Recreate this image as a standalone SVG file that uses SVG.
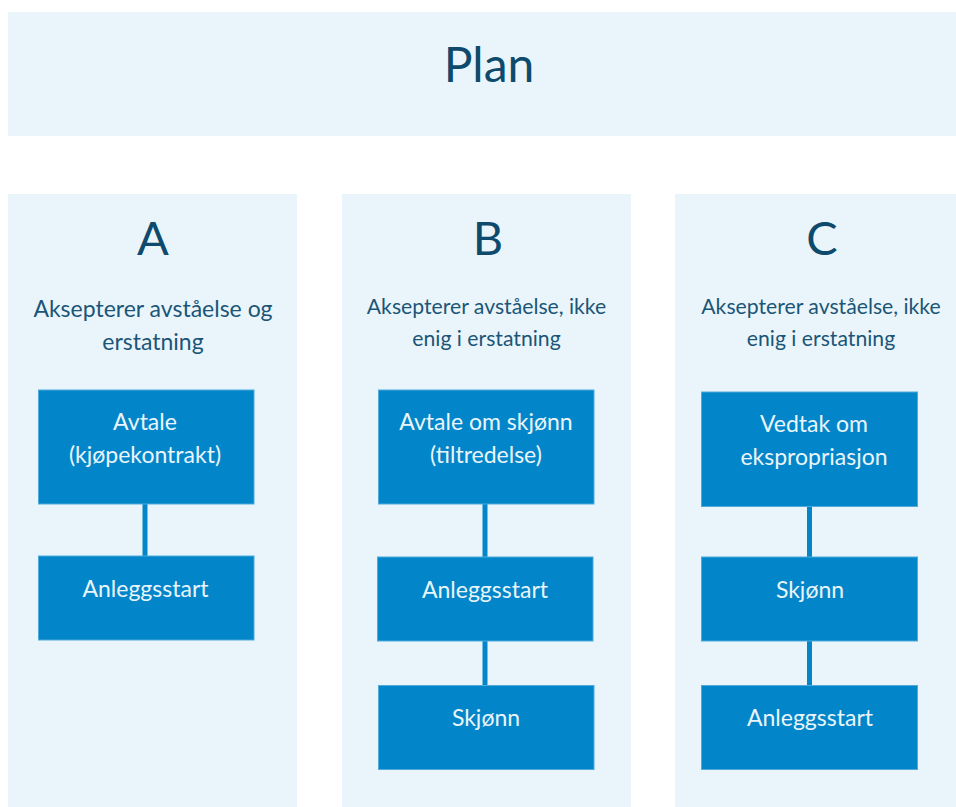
<svg xmlns="http://www.w3.org/2000/svg" width="956" height="807" viewBox="0 0 956 807">
<style>
  .panel { fill: #EAF5FB; }
  .box { fill: #0286C9; stroke: #4FAADB; stroke-width: 1; }
  .conn { stroke: #0286C9; stroke-width: 5; fill: none; }
  text { font-family: Lato, "Open Sans", "Liberation Sans", sans-serif; text-anchor: middle; }
  .title { fill: #0E4A6B; font-size: 48px; }
  .letter { fill: #0E4A6B; font-size: 47px; }
  .subA { fill: #1B5577; font-size: 23px; }
  .sub { fill: #1B5577; font-size: 21.2px; }
  .lbl { fill: #EAF5FB; font-size: 23px; }
</style>
<rect width="956" height="807" fill="#FFFFFF"/>
<g id="plan">
  <rect class="panel" x="8" y="12" width="948" height="124"/>
  <text class="title" x="489" y="82">Plan</text>
</g>
<g id="colA">
  <rect class="panel" x="8" y="194" width="289" height="613"/>
  <text class="letter" x="153" y="255">A</text>
  <text class="subA" x="153" y="317">Aksepterer avståelse og</text>
  <text class="subA" x="153" y="350">erstatning</text>
</g>
<g id="colB">
  <rect class="panel" x="342" y="194" width="289" height="613"/>
  <text class="letter" x="488" y="255">B</text>
  <text class="sub" x="486.5" y="314">Aksepterer avståelse, ikke</text>
  <text class="sub" x="486.5" y="346">enig i erstatning</text>
</g>
<g id="colC">
  <rect class="panel" x="675" y="194" width="281" height="613"/>
  <text class="letter" x="822" y="255">C</text>
  <text class="sub" x="821" y="314">Aksepterer avståelse, ikke</text>
  <text class="sub" x="821" y="346">enig i erstatning</text>
</g>
<g id="connectors">
  <line class="conn" x1="145" y1="504" x2="145" y2="556"/>
  <line class="conn" x1="485" y1="504" x2="485" y2="557"/>
  <line class="conn" x1="485" y1="641" x2="485" y2="685"/>
  <line class="conn" x1="809.5" y1="506" x2="809.5" y2="557"/>
  <line class="conn" x1="809.5" y1="641" x2="809.5" y2="685"/>
</g>
<g id="a1">
  <rect class="box" x="38.5" y="390" width="215.5" height="114"/>
  <text class="lbl" x="145" y="430">Avtale</text>
  <text class="lbl" x="145" y="463">(kjøpekontrakt)</text>
</g>
<g id="a2">
  <rect class="box" x="38.5" y="556" width="215.5" height="84"/>
  <text class="lbl" x="145.5" y="597">Anleggsstart</text>
</g>
<g id="b1">
  <rect class="box" x="378.5" y="390" width="215.5" height="114"/>
  <text class="lbl" x="486" y="430">Avtale om skjønn</text>
  <text class="lbl" x="486" y="463">(tiltredelse)</text>
</g>
<g id="b2">
  <rect class="box" x="377.5" y="557" width="215.5" height="84"/>
  <text class="lbl" x="485" y="598">Anleggsstart</text>
</g>
<g id="b3">
  <rect class="box" x="378.5" y="685.5" width="215.5" height="84"/>
  <text class="lbl" x="486" y="726">Skjønn</text>
</g>
<g id="c1">
  <rect class="box" x="701.5" y="392" width="216" height="114.5"/>
  <text class="lbl" x="814" y="432">Vedtak om</text>
  <text class="lbl" x="814" y="465">ekspropriasjon</text>
</g>
<g id="c2">
  <rect class="box" x="701.5" y="557" width="216" height="84"/>
  <text class="lbl" x="810" y="598">Skjønn</text>
</g>
<g id="c3">
  <rect class="box" x="701.5" y="685.5" width="216" height="84"/>
  <text class="lbl" x="810" y="726">Anleggsstart</text>
</g>
</svg>
